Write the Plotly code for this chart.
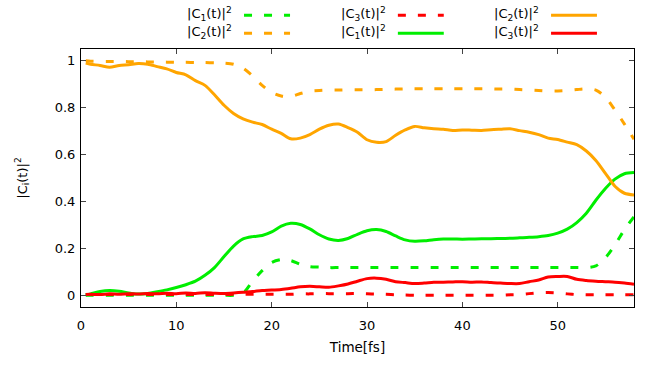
import plotly.graph_objects as go

# time grid (fs)
t = [0.5, 1, 2, 3, 4, 5, 6, 7, 8, 9, 10, 11, 12, 13, 14, 15, 16, 17, 18, 19,
     20, 21, 22, 23, 24, 25, 26, 27, 28, 29, 30, 31, 32, 33, 34, 35, 36, 37, 38, 39,
     40, 41, 42, 43, 44, 45, 46, 47, 48, 49, 50, 51, 52, 53, 54, 55, 56, 57, 58]

# solid curves
c1_solid = [0.002, 0.006, 0.016, 0.020, 0.017, 0.010, 0.005, 0.008, 0.015, 0.023,
            0.033, 0.045, 0.060, 0.085, 0.118, 0.165, 0.210, 0.240, 0.250, 0.255,
            0.270, 0.295, 0.307, 0.302, 0.283, 0.258, 0.240, 0.234, 0.242, 0.260,
            0.275, 0.280, 0.272, 0.253, 0.236, 0.230, 0.232, 0.237, 0.240, 0.240,
            0.239, 0.240, 0.241, 0.241, 0.242, 0.243, 0.245, 0.247, 0.250, 0.255,
            0.265, 0.282, 0.310, 0.350, 0.405, 0.455, 0.495, 0.518, 0.523]
c2_solid = [0.990, 0.985, 0.980, 0.972, 0.980, 0.983, 0.988, 0.985, 0.975, 0.965,
            0.950, 0.940, 0.915, 0.895, 0.855, 0.810, 0.775, 0.752, 0.738, 0.728,
            0.708, 0.690, 0.667, 0.670, 0.685, 0.708, 0.725, 0.730, 0.715, 0.695,
            0.663, 0.652, 0.655, 0.682, 0.705, 0.720, 0.714, 0.710, 0.708, 0.703,
            0.705, 0.704, 0.703, 0.706, 0.708, 0.710, 0.702, 0.695, 0.685, 0.670,
            0.664, 0.653, 0.642, 0.615, 0.575, 0.520, 0.465, 0.435, 0.428]
c3_solid = [0.003, 0.004, 0.003, 0.006, 0.004, 0.007, 0.005, 0.008, 0.006, 0.009,
            0.007, 0.010, 0.008, 0.011, 0.009, 0.008, 0.010, 0.013, 0.016, 0.020,
            0.022, 0.025, 0.030, 0.036, 0.038, 0.036, 0.034, 0.040, 0.048, 0.060,
            0.071, 0.073, 0.068, 0.058, 0.054, 0.050, 0.052, 0.055, 0.056, 0.057,
            0.058, 0.056, 0.057, 0.054, 0.052, 0.050, 0.050, 0.058, 0.065, 0.078,
            0.080, 0.080, 0.068, 0.063, 0.060, 0.058, 0.056, 0.052, 0.047]

# dashed curves
c1_dash = [0.0, 0.0, 0.0, 0.0, 0.0, 0.0, 0.0, 0.0, 0.0, 0.0,
           0.0, 0.0, 0.0, 0.0, 0.0, 0.0, 0.0, 0.010, 0.060, 0.105,
           0.140, 0.152, 0.148, 0.132, 0.122, 0.120, 0.118, 0.118, 0.118, 0.118,
           0.118, 0.118, 0.118, 0.118, 0.118, 0.118, 0.118, 0.118, 0.118, 0.118,
           0.118, 0.118, 0.118, 0.118, 0.118, 0.118, 0.118, 0.118, 0.118, 0.118,
           0.118, 0.118, 0.118, 0.118, 0.125, 0.160, 0.215, 0.280, 0.335]
c2_dash = [1.000, 0.998, 0.997, 0.997, 0.997, 0.996, 0.996, 0.995, 0.995, 0.994,
           0.993, 0.993, 0.992, 0.992, 0.991, 0.990, 0.985, 0.968, 0.935, 0.895,
           0.865, 0.850, 0.848, 0.860, 0.870, 0.873, 0.875, 0.875, 0.876, 0.876,
           0.876, 0.877, 0.878, 0.879, 0.880, 0.880, 0.880, 0.880, 0.880, 0.880,
           0.880, 0.880, 0.880, 0.880, 0.879, 0.879, 0.877, 0.875, 0.873, 0.871,
           0.871, 0.873, 0.877, 0.880, 0.875, 0.845, 0.790, 0.730, 0.665]
c3_dash = [0.003, 0.003, 0.003, 0.003, 0.003, 0.003, 0.003, 0.003, 0.003, 0.003,
           0.003, 0.003, 0.003, 0.003, 0.003, 0.003, 0.004, 0.004, 0.004, 0.004,
           0.004, 0.004, 0.004, 0.006, 0.006, 0.007, 0.007, 0.007, 0.007, 0.007,
           0.006, 0.005, 0.004, 0.002, 0.001, 0.000, 0.000, 0.000, 0.000, 0.000,
           0.000, 0.000, 0.000, 0.000, 0.000, 0.002, 0.003, 0.007, 0.011, 0.012,
           0.010, 0.006, 0.003, 0.002, 0.002, 0.002, 0.002, 0.002, 0.002]

GREEN = "#00ee00"
ORANGE = "#ffa500"
RED = "#ff0000"
DASH = "8px,12px"
LW = 3

labels = ["|C<sub>1</sub>(t)|<sup>2</sup>", "|C<sub>2</sub>(t)|<sup>2</sup>",
          "|C<sub>3</sub>(t)|<sup>2</sup>"]

series = [
    (c1_dash, GREEN, DASH, labels[0]),
    (c2_dash, ORANGE, DASH, labels[1]),
    (c3_dash, RED, DASH, labels[2]),
    (c1_solid, GREEN, "solid", labels[0]),
    (c2_solid, ORANGE, "solid", labels[1]),
    (c3_solid, RED, "solid", labels[2]),
]

fig = go.Figure()
for ys, col, dash, name in series:
    fig.add_trace(go.Scatter(x=t, y=ys, mode="lines", name=name, showlegend=False,
                             line=dict(color=col, width=LW, dash=dash,
                                       shape="spline", smoothing=0.8)))

# gnuplot-style legend (text left of sample), 3 columns x 2 rows
col_text_right = [0.2767, 0.555, 0.832]
col_line = [(0.2948, 0.378), (0.573, 0.656), (0.850, 0.933)]
row_y = [1.1357, 1.066]
legend_pos = [(0, 0), (0, 1), (1, 0), (1, 1), (2, 0), (2, 1)]
annotations = []
shapes = []
for (ys, col, dash, name), (ci, ri) in zip(series, legend_pos):
    annotations.append(dict(x=col_text_right[ci], y=row_y[ri], xref="paper", yref="paper",
                            text=name, showarrow=False, xanchor="right", yanchor="middle",
                            font=dict(size=13, color="black")))
    shapes.append(dict(type="line", xref="paper", yref="paper",
                       x0=col_line[ci][0], x1=col_line[ci][1],
                       y0=row_y[ri] - 0.005, y1=row_y[ri] - 0.005,
                       line=dict(color=col, width=LW, dash=dash)))

axis_common = dict(showline=True, linecolor="black", linewidth=1, mirror="allticks",
                   ticks="inside", ticklen=5, tickcolor="#444", showgrid=False,
                   zeroline=False, tickfont=dict(size=13, color="black"))

fig.update_layout(
    width=651, height=365,
    margin=dict(l=81, r=17, t=49, b=58),
    plot_bgcolor="white", paper_bgcolor="white",
    font=dict(family="DejaVu Sans", size=13, color="black"),
    xaxis=dict(range=[0, 58], dtick=10, ticklabelstandoff=6,
               title=dict(text="Time[fs]", standoff=10, font=dict(size=13.5)),
               **axis_common),
    yaxis=dict(range=[-0.05, 1.05], dtick=0.2, ticklabelstandoff=2,
               title=dict(text="|C<sub>i</sub>(t)|<sup>2</sup>", standoff=24,
                          font=dict(size=13)), **axis_common),
    annotations=annotations, shapes=shapes,
)

fig.write_html("out.html")
